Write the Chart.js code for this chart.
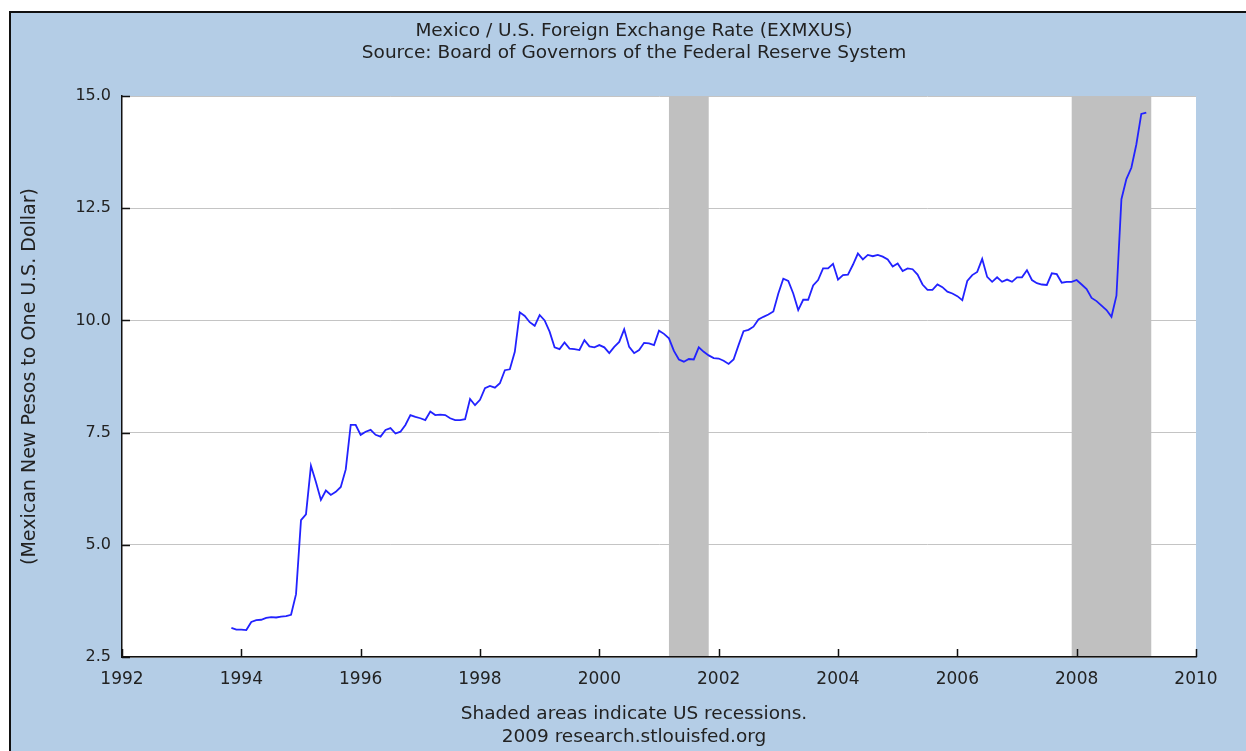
<!DOCTYPE html>
<html><head><meta charset="utf-8">
<script src="https://cdn.jsdelivr.net/npm/chart.js@4.4.1/dist/chart.umd.min.js"></script>
<style>html,body{margin:0;padding:0;background:#fff;overflow:hidden}canvas{display:block}</style>
</head><body>
<canvas id="c" width="1246" height="751"></canvas>
<script>
// ---------- data ----------
const titleLines = ['Mexico / U.S. Foreign Exchange Rate (EXMXUS)', 'Source: Board of Governors of the Federal Reserve System'];
const footerLines = ['Shaded areas indicate US recessions.', '2009 research.stlouisfed.org'];
const yAxisLabel = '(Mexican New Pesos to One U.S. Dollar)';
const xTickYears = [1992, 1994, 1996, 1998, 2000, 2002, 2004, 2006, 2008, 2010];
const yTickValues = [2.5, 5.0, 7.5, 10.0, 12.5, 15.0];
const firstMonth = '1993-11';
const rates = [
  3.15, 3.11,                                                             // 1993 Nov-Dec
  3.11, 3.10, 3.28, 3.32, 3.33, 3.37, 3.39, 3.38, 3.40, 3.41, 3.44, 3.90, // 1994
  5.55, 5.68, 6.76, 6.40, 6.00, 6.21, 6.11, 6.18, 6.29, 6.68, 7.67, 7.67, // 1995
  7.45, 7.52, 7.56, 7.45, 7.41, 7.56, 7.60, 7.48, 7.52, 7.67, 7.89, 7.85, // 1996
  7.82, 7.78, 7.97, 7.89, 7.90, 7.89, 7.82, 7.78, 7.78, 7.80, 8.25, 8.11, // 1997
  8.23, 8.49, 8.54, 8.50, 8.60, 8.89, 8.91, 9.30, 10.18, 10.10, 9.96, 9.88, // 1998
  10.12, 10.00, 9.75, 9.40, 9.36, 9.51, 9.37, 9.36, 9.34, 9.56, 9.42, 9.40, // 1999
  9.45, 9.40, 9.27, 9.41, 9.52, 9.80, 9.41, 9.27, 9.34, 9.50, 9.49, 9.45, // 2000
  9.77, 9.70, 9.60, 9.32, 9.13, 9.08, 9.14, 9.13, 9.40, 9.30, 9.22, 9.16, // 2001
  9.15, 9.10, 9.03, 9.13, 9.45, 9.76, 9.79, 9.86, 10.02, 10.08, 10.13, 10.20, // 2002
  10.60, 10.93, 10.88, 10.60, 10.23, 10.46, 10.46, 10.78, 10.90, 11.16, 11.16, 11.26, // 2003
  10.91, 11.01, 11.02, 11.24, 11.49, 11.36, 11.46, 11.43, 11.46, 11.42, 11.36, 11.20, // 2004
  11.27, 11.10, 11.16, 11.14, 11.02, 10.80, 10.68, 10.68, 10.80, 10.74, 10.64, 10.60, // 2005
  10.54, 10.45, 10.88, 11.01, 11.08, 11.37, 10.97, 10.86, 10.96, 10.86, 10.91, 10.86, // 2006
  10.96, 10.96, 11.12, 10.90, 10.83, 10.80, 10.79, 11.05, 11.03, 10.84, 10.86, 10.86, // 2007
  10.90, 10.80, 10.70, 10.50, 10.43, 10.33, 10.23, 10.08, 10.55, 12.70, 13.15, 13.40, // 2008
  13.92, 14.60, 14.63                                                     // 2009 Jan-Mar
];
const recessions = [['2001-03', '2001-11'], ['2007-12', '2009-04']];

// ---------- helpers ----------
function monthToYear(s) { const [y, m] = s.split('-').map(Number); return y + (m - 1) / 12; }
const start = monthToYear(firstMonth);
const points = rates.map((v, i) => ({ x: start + i / 12, y: v }));

const FONT = '"DejaVu Sans", Verdana, sans-serif';
const TEXT = '#222222';
const BLUE_BG = '#b4cde6';

const framePlugin = {
  id: 'frame',
  beforeDraw(chart) {
    const { ctx, chartArea: a, width, height } = chart;
    ctx.save();
    ctx.fillStyle = '#ffffff';
    ctx.fillRect(0, 0, width, height);
    ctx.fillStyle = BLUE_BG;
    ctx.fillRect(10, 12, width - 10, height - 12);
    ctx.strokeStyle = '#111';
    ctx.lineWidth = 2;
    ctx.beginPath();
    ctx.moveTo(10, height); ctx.lineTo(10, 12); ctx.lineTo(width, 12);
    ctx.stroke();
    ctx.fillStyle = '#ffffff';
    ctx.fillRect(a.left, a.top, a.right - a.left, a.bottom - a.top);
    ctx.restore();
  },
  beforeDatasetsDraw(chart) {
    const { ctx, chartArea: a, scales: { x } } = chart;
    ctx.save();
    ctx.fillStyle = '#c0c0c0';
    recessions.forEach(([s, e]) => {
      const x0 = x.getPixelForValue(monthToYear(s));
      const x1 = x.getPixelForValue(monthToYear(e));
      ctx.fillRect(x0, a.top, x1 - x0, a.bottom - a.top - 1);
    });
    ctx.restore();
  },
  afterDraw(chart) {
    const { ctx, chartArea: a, scales: { x, y } } = chart;
    ctx.save();
    // inward ticks
    ctx.strokeStyle = '#111';
    ctx.lineWidth = 1.5;
    ctx.beginPath();
    yTickValues.forEach(v => {
      const py = Math.round(y.getPixelForValue(v)) + 0.5;
      ctx.moveTo(a.left, py); ctx.lineTo(a.left + 8, py);
    });
    xTickYears.forEach(v => {
      const px = Math.round(x.getPixelForValue(v)) + 0.5;
      ctx.moveTo(px, a.bottom); ctx.lineTo(px, a.bottom - 8);
    });
    ctx.stroke();
    // titles and footer
    ctx.fillStyle = TEXT;
    ctx.textAlign = 'center';
    ctx.textBaseline = 'middle';
    ctx.font = '18.5px ' + FONT;
    ctx.fillText(titleLines[0], 634, 31);
    ctx.fillText(titleLines[1], 634, 53);
    ctx.fillText(footerLines[0], 634, 714);
    ctx.fillText(footerLines[1], 634, 737);
    ctx.restore();
  }
};

new Chart(document.getElementById('c'), {
  type: 'line',
  data: {
    datasets: [{
      data: points,
      borderColor: '#2222ff',
      borderWidth: 1.8,
      pointRadius: 0,
      tension: 0,
      fill: false
    }]
  },
  options: {
    responsive: false,
    animation: false,
    devicePixelRatio: 1,
    parsing: false,
    layout: { padding: { top: 96, right: 50, bottom: 0, left: 0 } },
    plugins: { legend: { display: false }, tooltip: { enabled: false }, title: { display: false } },
    scales: {
      x: {
        type: 'linear',
        min: 1992, max: 2010,
        afterBuildTicks: s => { s.ticks = xTickYears.map(v => ({ value: v })); },
        afterFit: s => { s.height = 94; },
        grid: { display: false, drawTicks: false },
        border: { display: true, color: '#111', width: 1.5 },
        ticks: { padding: 12, color: TEXT, font: { family: FONT, size: 17 }, callback: v => String(v), maxRotation: 0, autoSkip: false }
      },
      y: {
        type: 'linear',
        min: 2.5, max: 15,
        afterBuildTicks: s => { s.ticks = yTickValues.map(v => ({ value: v })); },
        afterFit: s => { s.width = 122; },
        grid: { color: '#c4c4c4', lineWidth: 1, drawTicks: false },
        border: { display: true, color: '#111', width: 1.5 },
        ticks: { padding: 11, color: TEXT, font: { family: FONT, size: 16 }, callback: v => Number(v).toFixed(1) },
        title: { display: true, text: yAxisLabel, color: TEXT, font: { family: FONT, size: 19 }, padding: { top: 18.5, bottom: 0 } }
      }
    }
  },
  plugins: [framePlugin]
});
</script>
</body></html>
